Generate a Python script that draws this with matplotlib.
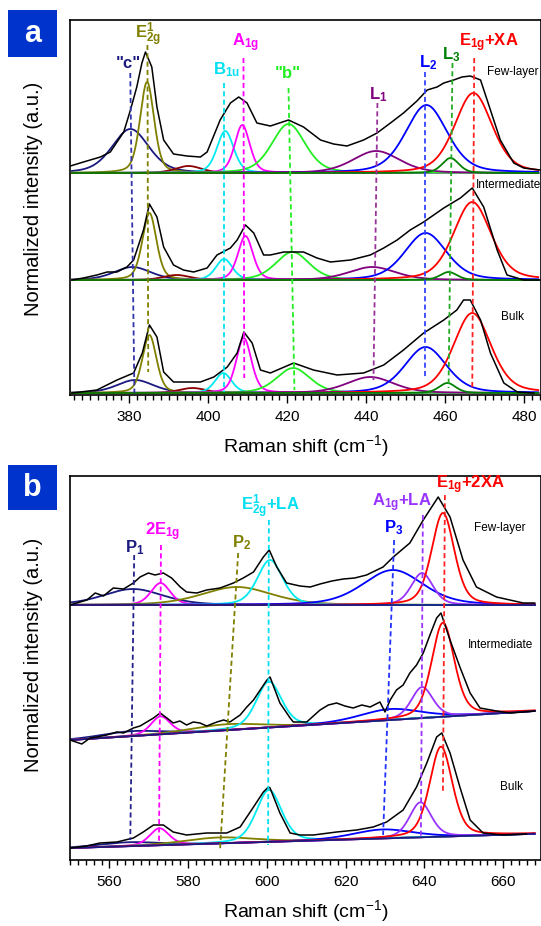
import numpy as np
import matplotlib.pyplot as plt
from matplotlib.ticker import MultipleLocator
from matplotlib.patches import Rectangle

plt.rcParams['font.family'] = ['Liberation Sans', 'DejaVu Sans']
plt.rcParams['mathtext.default'] = 'regular'

# ---------------- panel a (365-484 cm-1) ----------------
# measured spectra, height above own baseline
a_few_x = [365.1, 368.4, 372.7, 375.2, 378.6, 380.3, 381.9, 383.2, 384.1, 385.7, 387.0, 388.7, 391.2, 394.6, 398.0,
           399.7, 403.0, 405.6, 407.7, 409.8, 412.3, 415.7, 420.3, 424.1, 428.4, 431.7, 435.1, 439.3, 442.7, 446.1,
           449.4, 452.8, 455.4, 457.9, 459.6, 462.1, 464.2, 466.3, 468.9, 471.4, 473.9, 477.3, 479.8, 484.0]
a_few_y = [0.07, 0.11, 0.16, 0.21, 0.41, 0.63, 0.86, 1.10, 1.21, 1.06, 0.66, 0.33, 0.19, 0.17, 0.16,
           0.21, 0.53, 0.70, 0.76, 0.70, 0.50, 0.47, 0.53, 0.46, 0.33, 0.29, 0.27, 0.33, 0.40, 0.50,
           0.60, 0.72, 0.83, 0.86, 0.90, 0.93, 0.96, 0.97, 0.93, 0.63, 0.33, 0.10, 0.05, 0.03]
a_int_x = [365.5, 368.4, 371.8, 374.4, 376.9, 379.4, 381.1, 383.6, 385.1, 387.0, 388.7, 391.2, 393.7, 396.3, 399.7,
           402.2, 405.6, 407.3, 409.4, 411.5, 414.0, 415.7, 419.1, 424.1, 427.5, 430.9, 436.0, 441.0, 444.4, 447.8,
           451.1, 454.5, 459.6, 463.8, 466.8, 469.7, 473.1, 475.6, 479.8, 484.0]
a_int_y = [0.0, 0.02, 0.05, 0.08, 0.08, 0.13, 0.20, 0.50, 0.76, 0.63, 0.33, 0.15, 0.10, 0.08, 0.12,
           0.25, 0.32, 0.40, 0.55, 0.47, 0.25, 0.25, 0.28, 0.28, 0.22, 0.18, 0.20, 0.25, 0.32, 0.40,
           0.50, 0.58, 0.72, 0.82, 0.92, 0.73, 0.30, 0.05, 0.0, 0.0]
a_bulk_x = [365.5, 371.8, 376.9, 381.1, 383.3, 385.1, 387.0, 388.7, 391.2, 398.0, 401.4, 404.8, 407.3, 409.0, 411.1,
            413.2, 415.7, 421.6, 426.6, 432.6, 439.3, 444.4, 449.4, 454.5, 459.6, 462.9, 464.6, 466.3, 468.9, 471.4,
            474.8, 478.2, 482.4]
a_bulk_y = [0.0, 0.03, 0.13, 0.20, 0.40, 0.68, 0.56, 0.21, 0.11, 0.11, 0.16, 0.26, 0.40, 0.61, 0.50,
            0.23, 0.20, 0.30, 0.23, 0.18, 0.20, 0.28, 0.43, 0.60, 0.73, 0.83, 0.93, 0.93, 0.73, 0.40,
            0.10, 0.01, 0.0]

# fitted components: c, E2g, (dark red), B1u, A1g, b, L1, L2, L3, E1g+XA
a_colors = ['#1a1a80', '#808000', '#8b0000', '#00eaf0', '#ff00ff', '#22ee22', '#800080', '#0000ff', '#008000', '#ff0000']
a_fwhm = [11, 4.2, 8, 5, 4.5, 10, 14, 12.5, 5, 11.2]
a_center_few = [380.3, 384.5, 395.0, 404.3, 408.6, 420.3, 442.5, 455.2, 461.3, 467.1]
a_height_few = [0.44, 0.91, 0.07, 0.42, 0.48, 0.49, 0.22, 0.68, 0.15, 0.80]
a_center_int = [380.8, 385.1, 392.0, 404.0, 409.4, 421.3, 441.5, 455.0, 460.8, 466.8]
a_height_int = [0.13, 0.67, 0.05, 0.21, 0.44, 0.28, 0.13, 0.47, 0.08, 0.78]
a_center_bulk = [381.5, 385.1, 396.0, 403.8, 409.0, 421.5, 441.0, 455.0, 460.5, 466.8]
a_height_bulk = [0.13, 0.58, 0.05, 0.20, 0.55, 0.25, 0.16, 0.46, 0.10, 0.80]

a_labels = ['"c"', r'E$_{2g}^{1}$', r'B$_{1u}$', r'A$_{1g}$', '"b"', r'L$_1$', r'L$_2$', r'L$_3$', r'E$_{1g}$+XA']
a_label_colors = ['#1a1a80', '#808000', '#00e0f0', '#ff00ff', '#22ee22', '#800080', '#0000ff', '#008000', '#ff0000']
a_label_x = [379.75, 384.8, 404.6, 409.4, 420.0, 443.0, 455.7, 461.6, 471.0]
a_label_y = [3.30, 3.58, 3.23, 3.50, 3.20, 2.98, 3.30, 3.38, 3.50]
a_dash = [(380.25, 3.20, 381.3, 0.00), (384.6, 3.48, 384.8, 0.21), (404.1, 3.10, 404.1, 0.01),
          (408.9, 3.35, 409.1, 0.15), (420.3, 3.05, 421.8, 0.03), (442.8, 2.90, 441.8, 0.13),
          (454.9, 3.21, 454.9, 0.15), (461.8, 3.30, 460.8, 0.05), (467.3, 3.35, 466.8, 0.06)]
a_dash_colors = ['#3333aa', '#808000', '#00e0f0', '#ff00ff', '#22ee22', '#993399', '#3344ff', '#22aa22', '#ff2222']

# ---------------- panel b (550-669 cm-1) ----------------
b_few_x = [550.0, 554.3, 556.4, 558.5, 561.0, 563.6, 566.1, 567.8, 569.9, 571.6, 573.7, 575.8, 578.0, 579.6,
           582.2, 584.7, 588.1, 591.5, 594.0, 596.6, 599.1, 600.6, 602.5, 605.0, 608.4, 611.0, 613.5, 616.5,
           619.4, 622.3, 625.3, 629.5, 632.1, 636.3, 639.7, 643.5, 646.5, 649.8, 653.2, 658.3, 665.1, 668.0]
b_few_y = [2.55, 2.60, 2.67, 2.64, 2.72, 2.71, 2.77, 2.83, 2.87, 2.85, 2.87, 2.82, 2.73, 2.68,
           2.67, 2.70, 2.72, 2.77, 2.82, 2.88, 3.03, 3.10, 2.93, 2.77, 2.74, 2.73, 2.76, 2.79,
           2.81, 2.82, 2.85, 2.93, 3.03, 3.17, 3.40, 3.63, 3.43, 3.00, 2.73, 2.63, 2.57, 2.57]
b_int_x = [550.0, 553.0, 555.1, 556.8, 559.3, 561.9, 563.6, 566.1, 567.8, 569.5, 571.2, 572.9, 574.6, 576.2,
           577.9, 579.6, 581.3, 583.0, 584.7, 587.3, 589.0, 590.6, 593.2, 594.9, 596.6, 598.3, 600.0, 600.8,
           603.3, 605.9, 606.7, 610.1, 613.5, 615.6, 617.7, 619.8, 621.9, 624.1, 626.2, 628.7, 630.0, 631.3,
           632.9, 634.6, 636.3, 638.0, 639.7, 641.4, 643.1, 644.2, 646.5, 649.0, 651.6, 654.1, 658.3, 661.7,
           665.1, 668.0]
b_int_y = [1.20, 1.16, 1.22, 1.23, 1.25, 1.28, 1.27, 1.32, 1.34, 1.38, 1.42, 1.47, 1.42, 1.37,
           1.39, 1.35, 1.38, 1.37, 1.34, 1.38, 1.40, 1.38, 1.45, 1.53, 1.60, 1.70, 1.80, 1.83,
           1.57, 1.42, 1.38, 1.38, 1.50, 1.55, 1.57, 1.54, 1.52, 1.55, 1.53, 1.58, 1.48, 1.60,
           1.70, 1.75, 1.87, 1.95, 2.07, 2.25, 2.42, 2.47, 2.20, 1.93, 1.67, 1.52, 1.49, 1.47,
           1.48, 1.49]
b_bulk_x = [550.0, 554.2, 557.6, 561.9, 566.1, 568.6, 571.2, 573.7, 576.2, 579.6, 584.7, 589.8, 593.2, 596.6,
            599.1, 600.4, 600.8, 603.3, 605.9, 608.4, 611.8, 617.7, 622.8, 627.0, 630.4, 634.6, 638.0, 640.6,
            643.1, 644.4, 646.5, 649.0, 651.6, 654.9, 660.0, 665.9]
b_bulk_y = [0.12, 0.14, 0.17, 0.18, 0.22, 0.28, 0.35, 0.35, 0.28, 0.25, 0.27, 0.27, 0.33, 0.53,
            0.68, 0.73, 0.72, 0.47, 0.27, 0.25, 0.25, 0.28, 0.30, 0.33, 0.38, 0.50, 0.73, 0.97,
            1.23, 1.27, 1.07, 0.73, 0.40, 0.27, 0.25, 0.26]

# linear backgrounds (value at 550 and at 668)
b_base_few = [2.55, 2.55]
b_base_int = [1.20, 1.49]
b_base_bulk = [0.12, 0.262]

# components: P1, 2E1g, P2, E2g+LA, P3, A1g+LA, E1g+2XA
b_colors = ['#1a1a80', '#ff00ff', '#808000', '#00eaf0', '#0000ff', '#9933ff', '#ff0000']
b_fwhm = [18, 5.8, 21, 7.6, 18, 6.5, 6.8]
b_center_few = [566.0, 573.0, 592.4, 600.8, 632.0, 639.4, 644.7]
b_height_few = [0.16, 0.22, 0.18, 0.45, 0.35, 0.32, 0.92]
b_center_int = [565.6, 573.0, 589.8, 600.5, 631.3, 639.4, 644.7]
b_height_int = [0.05, 0.18, 0.06, 0.46, 0.11, 0.31, 0.94]
b_center_bulk = [565.0, 572.7, 588.0, 600.5, 629.4, 639.0, 644.2]
b_height_bulk = [0.04, 0.17, 0.06, 0.52, 0.09, 0.35, 0.90]

b_labels = [r'P$_1$', r'2E$_{1g}$', r'P$_2$', r'E$_{2g}^{1}$+LA', r'P$_3$', r'A$_{1g}$+LA', r'E$_{1g}$+2XA']
b_label_colors = ['#1a1a80', '#ff00ff', '#808000', '#00e0f0', '#0000ff', '#9933ff', '#ff0000']
b_label_x = [566.3, 573.6, 593.7, 601.0, 632.3, 634.3, 651.6]
b_label_y = [3.12, 3.28, 3.17, 3.53, 3.32, 3.57, 3.75]
b_dash = [(566.3, 3.05, 565.3, 0.20), (573.1, 3.15, 572.6, 0.17), (592.7, 3.07, 588.1, 0.10),
          (600.5, 3.40, 600.3, 0.15), (632.3, 3.20, 629.5, 0.25), (639.6, 3.45, 639.1, 0.23),
          (645.2, 3.65, 644.7, 0.67)]
b_dash_colors = ['#22228a', '#ff00ff', '#808000', '#00e0f0', '#2233ff', '#9933ff', '#ff2222']

samples = ['Few-layer', 'Intermediate', 'Bulk']


def peak(x, c, h, w, eta=0.35):
    # pseudo-Voigt line shape
    g = np.exp(-4 * np.log(2) * ((x - c) / w) ** 2)
    l = 1 / (1 + (2 * (x - c) / w) ** 2)
    return h * ((1 - eta) * g + eta * l)


fig = plt.figure(figsize=(5.41, 9.26), dpi=100)
ax_a = fig.add_axes([70 / 541, 1 - 395 / 926, 471 / 541, 375 / 926])
ax_b = fig.add_axes([70 / 541, 1 - 860 / 926, 471 / 541, 384 / 926])

dash_style = (0, (2.8, 1.8))

# --- panel a ---
xa = np.linspace(365.5, 483.5, 800)
a_offsets = [2.20, 1.13, 0.0]
a_sets = [(a_few_x, a_few_y, a_center_few, a_height_few),
          (a_int_x, a_int_y, a_center_int, a_height_int),
          (a_bulk_x, a_bulk_y, a_center_bulk, a_height_bulk)]
order_a = [0, 1, 2, 3, 4, 5, 6, 7, 9, 8]
for off, (sx, sy, cen, hei) in zip(a_offsets, a_sets):
    for i in order_a:
        ax_a.plot(xa, off + peak(xa, cen[i], hei[i], a_fwhm[i]), color=a_colors[i], lw=1.3)
    ax_a.plot(sx, off + np.array(sy), color='black', lw=1.1)

for (x0, y0, x1, y1), col in zip(a_dash, a_dash_colors):
    ax_a.plot([x0, x1], [y0, y1], color=col, lw=1.3, ls=dash_style)
for t, x, y, col in zip(a_labels, a_label_x, a_label_y, a_label_colors):
    ax_a.text(x, y, t, color=col, fontsize=12, fontweight='bold', ha='center', va='center')
for t, x, y in zip(samples, [477.0, 475.9, 477.0], [3.21, 2.08, 0.76]):
    ax_a.text(x, y, t, fontsize=8.5, ha='center', va='center')

ax_a.set_xlim(365, 484.2)
ax_a.set_ylim(-0.02, 3.73)

# --- panel b ---
xb = np.linspace(550, 668, 800)
b_sets = [(b_few_x, b_few_y, b_center_few, b_height_few, b_base_few),
          (b_int_x, b_int_y, b_center_int, b_height_int, b_base_int),
          (b_bulk_x, b_bulk_y, b_center_bulk, b_height_bulk, b_base_bulk)]
for sx, sy, cen, hei, base in b_sets:
    bg = np.interp(xb, [550, 668], base)
    for i in [0, 1, 2, 3, 4, 5, 6]:
        ax_b.plot(xb, bg + peak(xb, cen[i], hei[i], b_fwhm[i]), color=b_colors[i], lw=1.3)
    ax_b.plot(xb, bg, color='#1a1a80', lw=1.3)
    ax_b.plot(sx, sy, color='black', lw=1.1)

for (x0, y0, x1, y1), col in zip(b_dash, b_dash_colors):
    ax_b.plot([x0, x1], [y0, y1], color=col, lw=1.3, ls=dash_style)
for t, x, y, col in zip(b_labels, b_label_x, b_label_y, b_label_colors):
    ax_b.text(x, y, t, color=col, fontsize=12, fontweight='bold', ha='center', va='center')
for t, x, y in zip(samples, [659.2, 659.4, 662.0], [3.32, 2.15, 0.73]):
    ax_b.text(x, y, t, fontsize=8.5, ha='center', va='center')

ax_b.set_xlim(550, 669.6)
ax_b.set_ylim(0, 3.84)

for ax, ylab_y in ((ax_a, 0.523), (ax_b, 0.534)):
    ax.xaxis.set_major_locator(MultipleLocator(20))
    ax.xaxis.set_minor_locator(MultipleLocator(2))
    ax.set_yticks([])
    ax.tick_params(axis='x', which='major', direction='out', length=6, width=1, labelsize=11, pad=5)
    ax.tick_params(axis='x', which='minor', direction='out', length=3.5, width=1)
    for s in ax.spines.values():
        s.set_linewidth(1.2)
    ax.set_xlabel('Raman shift (cm$^{-1}$)', fontsize=14, labelpad=6)
    ax.set_ylabel('Normalized intensity (a.u.)', fontsize=14.5)
    ax.yaxis.set_label_coords(-0.057, ylab_y)

# panel letters
for y0, h, letter in [(1 - 57 / 926, 47 / 926, 'a'), (1 - 510 / 926, 45 / 926, 'b')]:
    fig.patches.append(Rectangle((8 / 541, y0), 49 / 541, h, transform=fig.transFigure,
                                 facecolor='#0033cc', edgecolor='none'))
    fig.text(32.5 / 541, y0 + h / 2, letter, color='white', fontsize=22, fontweight='bold',
             ha='center', va='center')

fig.savefig('out.png', dpi=100)
